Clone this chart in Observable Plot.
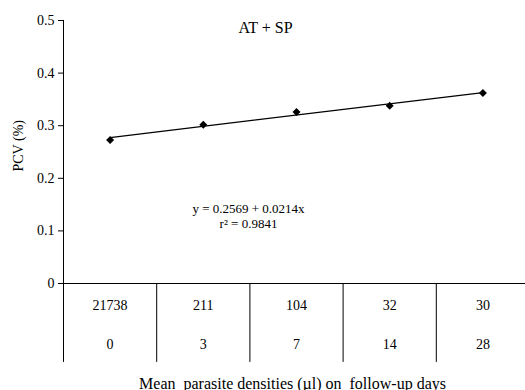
<!DOCTYPE html>
<html><head><meta charset="utf-8">
<script src="https://cdn.jsdelivr.net/npm/d3@7"></script>
<script src="https://cdn.jsdelivr.net/npm/@observablehq/plot@0.6"></script>
<style>body{margin:0;background:#fff}</style>
</head><body><div id="chart"></div>
<script>
const followUpDays = [0, 3, 7, 14, 28];
const parasiteDensities = [21738, 211, 104, 32, 30];
const pcv = [0.273, 0.302, 0.326, 0.338, 0.362];
const yTicks = [0, 0.1, 0.2, 0.3, 0.4, 0.5];
const title = "AT + SP";
const equationLines = ["y = 0.2569 + 0.0214x", "r² = 0.9841"];
const yLabel = "PCV (%)";
const xLabel = "Mean  parasite densities (µl) on  follow-up days";
const tableBottom = -0.15;

const data = followUpDays.map((d, i) => ({pos: i + 1, day: d, density: parasiteDensities[i], pcv: pcv[i]}));
const font = "'Liberation Serif', 'Times New Roman', serif";

const chart = Plot.plot({
  width: 525, height: 390,
  marginLeft: 63, marginRight: 0, marginTop: 20, marginBottom: 107,
  style: {fontFamily: font, fontSize: "14px", color: "#000", background: "#fff", overflow: "visible"},
  x: {domain: [0.5, 5.5], range: [63, 529], axis: null},
  y: {domain: [0, 0.5], axis: null},
  marks: [
    Plot.axisY({ticks: yTicks, tickSize: 5, tickPadding: 4, tickFormat: d => String(d), fontSize: 14, stroke: "#000", label: null, fontFamily: font}),
    Plot.ruleX([0.5], {y1: 0.5, y2: tableBottom, stroke: "#000"}),
    Plot.ruleX(data.slice(1), {x: d => d.pos - 0.5, y1: 0, y2: tableBottom, stroke: "#000"}),
    Plot.ruleY([0], {stroke: "#000"}),
    Plot.linearRegressionY(data, {x: "pos", y: "pcv", ci: 0, stroke: "#000", strokeWidth: 1.3}),
    Plot.dot(data, {x: "pos", y: "pcv", symbol: "diamond2", r: 3.6, fill: "#000", stroke: "none"}),
    Plot.text(data, {x: "pos", y: 0, text: d => String(d.density), dy: 22, fontSize: 14}),
    Plot.text(data, {x: "pos", y: 0, text: d => String(d.day), dy: 61, fontSize: 14}),
    Plot.text([title], {frameAnchor: "top", lineAnchor: "middle", dx: -29, dy: 7, fontSize: 16}),
    Plot.text([equationLines[0]], {frameAnchor: "top-left", textAnchor: "middle", lineAnchor: "middle", dx: 185, dy: 188, fontSize: 13}),
    Plot.text([equationLines[1]], {frameAnchor: "top-left", textAnchor: "middle", lineAnchor: "middle", dx: 185, dy: 203, fontSize: 13}),
    Plot.text([yLabel], {frameAnchor: "left", rotate: -90, lineAnchor: "middle", dx: -45, dy: 19.5, fontSize: 14}),
    Plot.text([xLabel], {frameAnchor: "bottom", lineAnchor: "middle", dx: -2, dy: 100, fontSize: 16})
  ]
});
document.getElementById("chart").appendChild(chart);
</script>
</body></html>
